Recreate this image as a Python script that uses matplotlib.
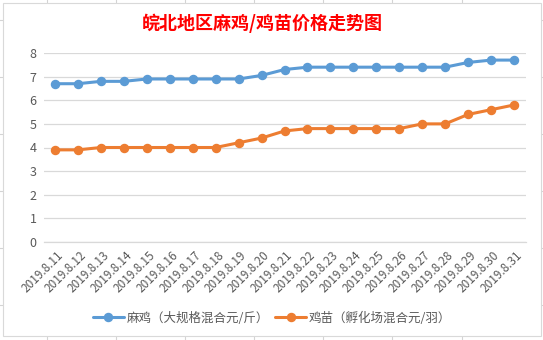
import matplotlib
matplotlib.use("Agg")
import matplotlib.pyplot as plt
from matplotlib.lines import Line2D
from matplotlib.patches import Rectangle
from matplotlib.transforms import ScaledTranslation

plt.rcParams['font.family'] = ['Noto Sans CJK SC', 'DejaVu Sans']

dates = ["2019.8.11", "2019.8.12", "2019.8.13", "2019.8.14", "2019.8.15", "2019.8.16",
         "2019.8.17", "2019.8.18", "2019.8.19", "2019.8.20", "2019.8.21", "2019.8.22",
         "2019.8.23", "2019.8.24", "2019.8.25", "2019.8.26", "2019.8.27", "2019.8.28",
         "2019.8.29", "2019.8.30", "2019.8.31"]
maji = [6.7, 6.7, 6.8, 6.8, 6.9, 6.9, 6.9, 6.9, 6.9, 7.05, 7.3, 7.4, 7.4, 7.4, 7.4,
        7.4, 7.4, 7.4, 7.6, 7.7, 7.7]
jimiao = [3.9, 3.9, 4.0, 4.0, 4.0, 4.0, 4.0, 4.0, 4.2, 4.4, 4.7, 4.8, 4.8, 4.8, 4.8,
          4.8, 5.0, 5.0, 5.4, 5.6, 5.8]
yticks = [0, 1, 2, 3, 4, 5, 6, 7, 8]
title = "皖北地区麻鸡/鸡苗价格走势图"
label_maji = "麻鸡（大规格混合元/斤）"
label_jimiao = "鸡苗（孵化场混合元/羽）"

W, H = 543, 340
fig = plt.figure(figsize=(W / 100, H / 100), dpi=100)
fig.patch.set_facecolor("white")

# Excel sheet grid outside the chart and chart border
for xv in [47, 116, 185, 254, 323, 392, 462]:
    fig.add_artist(Line2D([xv / W, xv / W], [1 - 3 / H, 1], color="#D4D4D4", lw=0.8, zorder=-3))
    fig.add_artist(Line2D([xv / W, xv / W], [0, 1 - 336 / H], color="#D4D4D4", lw=0.8, zorder=-3))
for yv in [20, 77, 134, 191, 248, 305]:
    fig.add_artist(Line2D([0, 3 / W], [1 - yv / H, 1 - yv / H], color="#D4D4D4", lw=0.8, zorder=-3))
    fig.add_artist(Line2D([541 / W, 1], [1 - yv / H, 1 - yv / H], color="#D4D4D4", lw=0.8, zorder=-3))
fig.add_artist(Rectangle((3 / W, 1 - 336 / H), 538 / W, 333 / H, fill=True,
                         facecolor="white", edgecolor="#D9D9D9", lw=0.8, zorder=-2))

ax = fig.add_axes([43.5 / W, 1 - 242 / H, 482 / W, 189 / H])
ax.set_facecolor("none")
x = list(range(len(dates)))
ax.plot(x, maji, color="#5B9BD5", lw=2.2, marker="o", ms=5.8, label=label_maji,
        solid_capstyle="round", zorder=3)
ax.plot(x, jimiao, color="#ED7D31", lw=2.2, marker="o", ms=5.8, label=label_jimiao,
        solid_capstyle="round", zorder=3)

ax.set_xlim(-0.5, len(dates) - 0.5)
ax.set_ylim(0, 8)
ax.set_yticks(yticks)
ax.set_yticklabels([str(v) for v in yticks], fontsize=9, color="#595959")
ax.yaxis.grid(True, color="#D9D9D9", lw=0.9)
ax.set_axisbelow(True)
for s in ["top", "right", "left"]:
    ax.spines[s].set_visible(False)
ax.spines["bottom"].set_color("#D9D9D9")
ax.spines["bottom"].set_linewidth(0.9)
ax.tick_params(axis="y", length=0, pad=5)
ax.tick_params(axis="x", length=0, pad=8)
ax.set_xticks(x)
ax.set_xticklabels(dates, rotation=45, ha="right", va="center", rotation_mode="anchor",
                   fontsize=8.5, color="#595959")
offset = ScaledTranslation(6 / 100, 0, fig.dpi_scale_trans)
for lab in ax.get_xticklabels():
    lab.set_transform(lab.get_transform() + offset)

fig.text(262 / W, 1 - 23 / H, title, ha="center", va="center", fontsize=13,
         fontweight="bold", color="#FF0000")

fig.legend(loc="center", bbox_to_anchor=(272 / W, 1 - 318 / H), ncol=2, frameon=False,
           fontsize=9, handlelength=2.5, columnspacing=0.5, handletextpad=0.2,
           labelcolor="#595959")

fig.savefig("out.png", dpi=100, facecolor="white")
